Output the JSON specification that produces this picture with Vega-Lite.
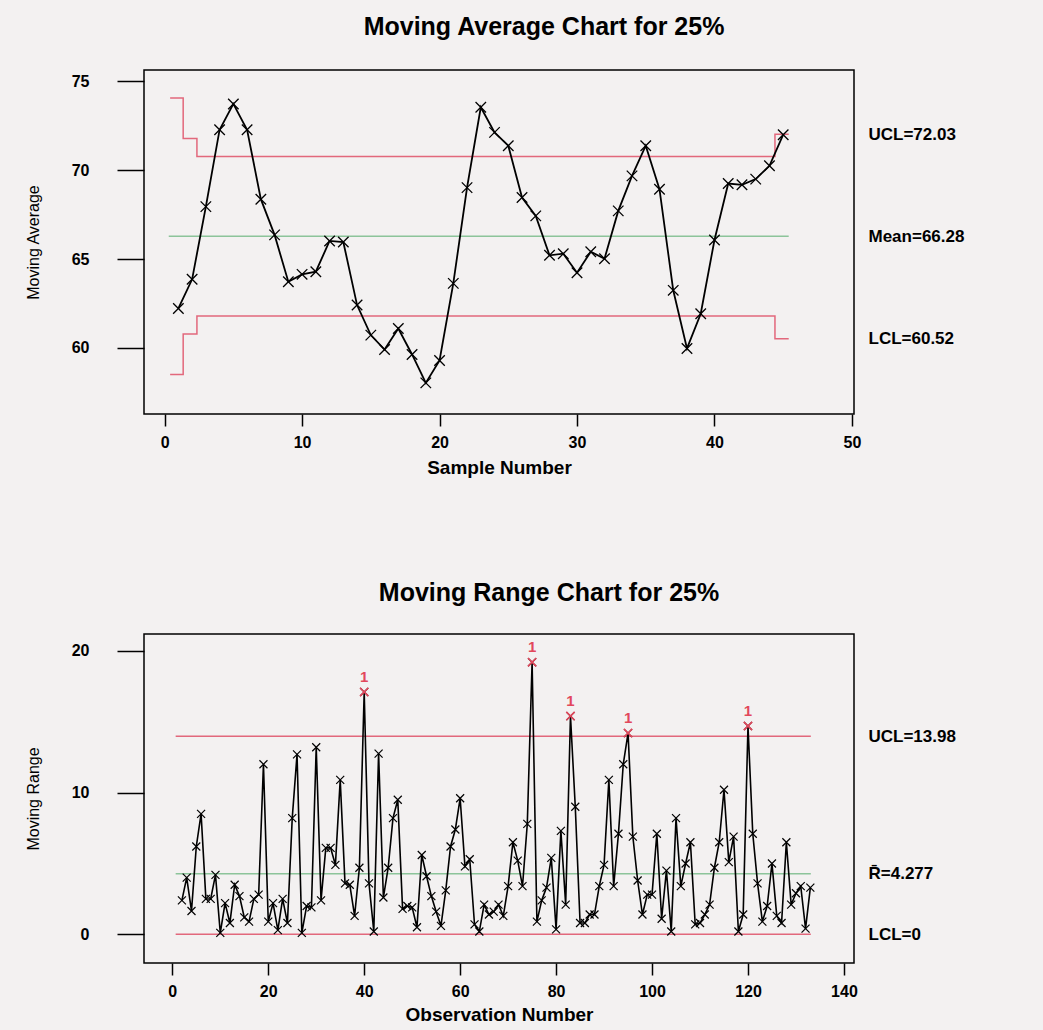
{
  "$schema": "https://vega.github.io/schema/vega-lite/v6.json",
  "background": "#f3f1f1",
  "padding": {"left": 24, "top": 14, "right": 81, "bottom": 5},
  "bounds": "flush",
  "spacing": 220,
  "config": {
    "view": {"stroke": "black", "strokeWidth": 1.5},
    "font": "Liberation Sans",
    "axis": {"grid": false, "domain": false, "tickColor": "black", "labelColor": "black", "titleColor": "black", "labelFont": "Liberation Sans", "titleFont": "Liberation Sans", "labelFontWeight": "bold", "labelFontSize": 16},
    "title": {"font": "Liberation Sans", "fontSize": 25, "fontWeight": "bold", "color": "black"}
  },
  "datasets": {
    "ma": [
      {"sample": 1, "avg": 62.22}, {"sample": 2, "avg": 63.86}, {"sample": 3, "avg": 67.95}, {"sample": 4, "avg": 72.28}, {"sample": 5, "avg": 73.73},
      {"sample": 6, "avg": 72.28}, {"sample": 7, "avg": 68.37}, {"sample": 8, "avg": 66.36}, {"sample": 9, "avg": 63.72}, {"sample": 10, "avg": 64.14},
      {"sample": 11, "avg": 64.29}, {"sample": 12, "avg": 66.02}, {"sample": 13, "avg": 65.96}, {"sample": 14, "avg": 62.41}, {"sample": 15, "avg": 60.72},
      {"sample": 16, "avg": 59.91}, {"sample": 17, "avg": 61.09}, {"sample": 18, "avg": 59.63}, {"sample": 19, "avg": 58.03}, {"sample": 20, "avg": 59.29},
      {"sample": 21, "avg": 63.63}, {"sample": 22, "avg": 69.02}, {"sample": 23, "avg": 73.54}, {"sample": 24, "avg": 72.13}, {"sample": 25, "avg": 71.38},
      {"sample": 26, "avg": 68.46}, {"sample": 27, "avg": 67.43}, {"sample": 28, "avg": 65.21}, {"sample": 29, "avg": 65.30}, {"sample": 30, "avg": 64.23},
      {"sample": 31, "avg": 65.41}, {"sample": 32, "avg": 65.02}, {"sample": 33, "avg": 67.71}, {"sample": 34, "avg": 69.68}, {"sample": 35, "avg": 71.38},
      {"sample": 36, "avg": 68.93}, {"sample": 37, "avg": 63.24}, {"sample": 38, "avg": 59.97}, {"sample": 39, "avg": 61.92}, {"sample": 40, "avg": 66.07},
      {"sample": 41, "avg": 69.25}, {"sample": 42, "avg": 69.18}, {"sample": 43, "avg": 69.50}, {"sample": 44, "avg": 70.25}, {"sample": 45, "avg": 72.0}
    ],
    "ma_limits": [
      {"x": 0.4, "y": 74.06, "limit": "UCL"}, {"x": 1.35, "y": 71.78, "limit": "UCL"}, {"x": 2.35, "y": 70.77, "limit": "UCL"}, {"x": 44.4, "y": 72.03, "limit": "UCL"}, {"x": 45.4, "y": 72.03, "limit": "UCL"},
      {"x": 0.4, "y": 58.50, "limit": "LCL"}, {"x": 1.35, "y": 60.78, "limit": "LCL"}, {"x": 2.35, "y": 61.79, "limit": "LCL"}, {"x": 44.4, "y": 60.52, "limit": "LCL"}, {"x": 45.4, "y": 60.52, "limit": "LCL"}
    ],
    "ma_center": [{"x": 0.3, "x2": 45.4, "y": 66.28}],
    "ma_labels": [{"v": 72.03}, {"v": 66.28}, {"v": 60.52}],
    "mr": [
      {"obs": 2, "mr": 2.4}, {"obs": 3, "mr": 4.0}, {"obs": 4, "mr": 1.65}, {"obs": 5, "mr": 6.2}, {"obs": 6, "mr": 8.5},
      {"obs": 7, "mr": 2.5}, {"obs": 8, "mr": 2.5}, {"obs": 9, "mr": 4.2}, {"obs": 10, "mr": 0.1}, {"obs": 11, "mr": 2.2},
      {"obs": 12, "mr": 0.8}, {"obs": 13, "mr": 3.5}, {"obs": 14, "mr": 2.7}, {"obs": 15, "mr": 1.2}, {"obs": 16, "mr": 0.9},
      {"obs": 17, "mr": 2.5}, {"obs": 18, "mr": 2.8}, {"obs": 19, "mr": 12.0}, {"obs": 20, "mr": 0.9}, {"obs": 21, "mr": 2.2},
      {"obs": 22, "mr": 0.3}, {"obs": 23, "mr": 2.5}, {"obs": 24, "mr": 0.8}, {"obs": 25, "mr": 8.2}, {"obs": 26, "mr": 12.7},
      {"obs": 27, "mr": 0.1}, {"obs": 28, "mr": 2.0}, {"obs": 29, "mr": 1.9}, {"obs": 30, "mr": 13.2}, {"obs": 31, "mr": 2.4},
      {"obs": 32, "mr": 6.1}, {"obs": 33, "mr": 6.1}, {"obs": 34, "mr": 4.9}, {"obs": 35, "mr": 10.9}, {"obs": 36, "mr": 3.6},
      {"obs": 37, "mr": 3.5}, {"obs": 38, "mr": 1.3}, {"obs": 39, "mr": 4.7}, {"obs": 40, "mr": 17.1}, {"obs": 41, "mr": 3.6},
      {"obs": 42, "mr": 0.2}, {"obs": 43, "mr": 12.75}, {"obs": 44, "mr": 2.6}, {"obs": 45, "mr": 4.7}, {"obs": 46, "mr": 8.2},
      {"obs": 47, "mr": 9.5}, {"obs": 48, "mr": 1.8}, {"obs": 49, "mr": 2.0}, {"obs": 50, "mr": 1.9}, {"obs": 51, "mr": 0.5},
      {"obs": 52, "mr": 5.6}, {"obs": 53, "mr": 4.1}, {"obs": 54, "mr": 2.7}, {"obs": 55, "mr": 1.6}, {"obs": 56, "mr": 0.6},
      {"obs": 57, "mr": 3.1}, {"obs": 58, "mr": 6.2}, {"obs": 59, "mr": 7.4}, {"obs": 60, "mr": 9.6}, {"obs": 61, "mr": 4.8},
      {"obs": 62, "mr": 5.3}, {"obs": 63, "mr": 0.7}, {"obs": 64, "mr": 0.2}, {"obs": 65, "mr": 2.1}, {"obs": 66, "mr": 1.4},
      {"obs": 67, "mr": 1.6}, {"obs": 68, "mr": 2.1}, {"obs": 69, "mr": 1.3}, {"obs": 70, "mr": 3.4}, {"obs": 71, "mr": 6.5},
      {"obs": 72, "mr": 5.2}, {"obs": 73, "mr": 3.4}, {"obs": 74, "mr": 7.8}, {"obs": 75, "mr": 19.2}, {"obs": 76, "mr": 0.9},
      {"obs": 77, "mr": 2.4}, {"obs": 78, "mr": 3.3}, {"obs": 79, "mr": 5.4}, {"obs": 80, "mr": 0.35}, {"obs": 81, "mr": 7.3},
      {"obs": 82, "mr": 2.1}, {"obs": 83, "mr": 15.4}, {"obs": 84, "mr": 9.0}, {"obs": 85, "mr": 0.8}, {"obs": 86, "mr": 0.8},
      {"obs": 87, "mr": 1.4}, {"obs": 88, "mr": 1.4}, {"obs": 89, "mr": 3.4}, {"obs": 90, "mr": 4.9}, {"obs": 91, "mr": 10.9},
      {"obs": 92, "mr": 3.4}, {"obs": 93, "mr": 7.1}, {"obs": 94, "mr": 12.0}, {"obs": 95, "mr": 14.2}, {"obs": 96, "mr": 6.9},
      {"obs": 97, "mr": 3.8}, {"obs": 98, "mr": 1.4}, {"obs": 99, "mr": 2.8}, {"obs": 100, "mr": 2.8}, {"obs": 101, "mr": 7.1},
      {"obs": 102, "mr": 1.1}, {"obs": 103, "mr": 4.5}, {"obs": 104, "mr": 0.2}, {"obs": 105, "mr": 8.2}, {"obs": 106, "mr": 3.4},
      {"obs": 107, "mr": 5.0}, {"obs": 108, "mr": 6.5}, {"obs": 109, "mr": 0.7}, {"obs": 110, "mr": 0.8}, {"obs": 111, "mr": 1.4},
      {"obs": 112, "mr": 2.1}, {"obs": 113, "mr": 4.7}, {"obs": 114, "mr": 6.5}, {"obs": 115, "mr": 10.2}, {"obs": 116, "mr": 5.1},
      {"obs": 117, "mr": 6.9}, {"obs": 118, "mr": 0.2}, {"obs": 119, "mr": 1.4}, {"obs": 120, "mr": 14.7}, {"obs": 121, "mr": 7.1},
      {"obs": 122, "mr": 3.6}, {"obs": 123, "mr": 0.9}, {"obs": 124, "mr": 2.0}, {"obs": 125, "mr": 5.0}, {"obs": 126, "mr": 1.3},
      {"obs": 127, "mr": 0.8}, {"obs": 128, "mr": 6.5}, {"obs": 129, "mr": 2.1}, {"obs": 130, "mr": 2.9}, {"obs": 131, "mr": 3.4},
      {"obs": 132, "mr": 0.4}, {"obs": 133, "mr": 3.3}
    ],
    "mr_limits": [{"x": 0.7, "x2": 133.1, "y": 13.98}, {"x": 0.7, "x2": 133.1, "y": 0}],
    "mr_center": [{"x": 0.7, "x2": 133.1, "y": 4.277}],
    "mr_labels": [{"v": 13.98}, {"v": 4.277}, {"v": 0}]
  },
  "vconcat": [
    {
      "width": 710,
      "height": 344,
      "title": {"text": "Moving Average Chart for 25%", "dx": 45, "offset": 30},
      "layer": [
        {
          "layer": [
            {
              "data": {"name": "ma_limits"},
              "mark": {"type": "line", "interpolate": "step-after", "color": "#e2687c", "strokeWidth": 1.5},
              "encoding": {
                "x": {"field": "x", "type": "quantitative", "scale": {"domain": [-1.5, 50.15], "nice": false, "zero": false},
                      "axis": {"title": "Sample Number", "values": [0, 10, 20, 30, 40, 50], "tickSize": 12, "tickWidth": 1.5, "labelPadding": 8, "titleFontSize": 19, "titleFontWeight": "bold", "titlePadding": 8}},
                "y": {"field": "y", "type": "quantitative", "scale": {"domain": [56.28, 75.64], "nice": false, "zero": false},
                      "axis": {"title": "Moving Average", "values": [60, 65, 70, 75], "tickSize": 27, "tickWidth": 1.5, "labelPadding": 28, "titleFontSize": 16, "titleFontWeight": "normal", "titlePadding": 30}},
                "detail": {"field": "limit"},
                "order": {"field": "x", "type": "quantitative"}
              }
            },
            {
              "data": {"name": "ma_center"},
              "mark": {"type": "rule", "color": "#8cc49a", "strokeWidth": 1.5},
              "encoding": {
                "x": {"field": "x", "type": "quantitative"},
                "x2": {"field": "x2"},
                "y": {"field": "y", "type": "quantitative"}
              }
            },
            {
              "data": {"name": "ma"},
              "mark": {"type": "line", "color": "black", "strokeWidth": 1.8},
              "encoding": {
                "x": {"field": "sample", "type": "quantitative"},
                "y": {"field": "avg", "type": "quantitative"}
              }
            },
            {
              "data": {"name": "ma"},
              "mark": {"type": "point", "shape": "M-1,-1L1,1M-1,1L1,-1", "filled": false, "stroke": "black", "strokeWidth": 1.3, "size": 110, "opacity": 1},
              "encoding": {
                "x": {"field": "sample", "type": "quantitative"},
                "y": {"field": "avg", "type": "quantitative"}
              }
            }
          ]
        },
        {
          "data": {"name": "ma_labels"},
          "mark": {"type": "point", "opacity": 0},
          "encoding": {
            "y": {"field": "v", "type": "quantitative", "scale": {"domain": [56.28, 75.64], "nice": false, "zero": false},
                  "axis": {"orient": "right", "title": null, "values": [72.03, 66.28, 60.52], "ticks": false, "labelPadding": 14, "labelFontSize": 17, "labelAlign": "left",
                           "labelExpr": "datum.value > 70 ? 'UCL=72.03' : datum.value > 63 ? 'Mean=66.28' : 'LCL=60.52'"}}
          }
        }
      ],
      "resolve": {"scale": {"y": "independent"}}
    },
    {
      "width": 710,
      "height": 329,
      "title": {"text": "Moving Range Chart for 25%", "dx": 50, "offset": 28},
      "layer": [
        {
          "layer": [
            {
              "data": {"name": "mr_limits"},
              "mark": {"type": "rule", "color": "#e2687c", "strokeWidth": 1.5},
              "encoding": {
                "x": {"field": "x", "type": "quantitative", "scale": {"domain": [-5.9, 142.1], "nice": false, "zero": false},
                      "axis": {"title": "Observation Number", "values": [0, 20, 40, 60, 80, 100, 120, 140], "tickSize": 12, "tickWidth": 1.5, "labelPadding": 8, "titleFontSize": 19, "titleFontWeight": "bold", "titlePadding": 6}},
                "x2": {"field": "x2"},
                "y": {"field": "y", "type": "quantitative", "scale": {"domain": [-2.02, 21.19], "nice": false, "zero": false},
                      "axis": {"title": "Moving Range", "values": [0, 10, 20], "tickSize": 27, "tickWidth": 1.5, "labelPadding": 28, "titleFontSize": 16, "titleFontWeight": "normal", "titlePadding": 30}}
              }
            },
            {
              "data": {"name": "mr_center"},
              "mark": {"type": "rule", "color": "#8cc49a", "strokeWidth": 1.5},
              "encoding": {
                "x": {"field": "x", "type": "quantitative"},
                "x2": {"field": "x2"},
                "y": {"field": "y", "type": "quantitative"}
              }
            },
            {
              "data": {"name": "mr"},
              "mark": {"type": "line", "color": "black", "strokeWidth": 1.6},
              "encoding": {
                "x": {"field": "obs", "type": "quantitative"},
                "y": {"field": "mr", "type": "quantitative"}
              }
            },
            {
              "data": {"name": "mr"},
              "mark": {"type": "point", "shape": "M-1,-1L1,1M-1,1L1,-1", "filled": false, "stroke": "black", "strokeWidth": 1.2, "size": 64, "opacity": 1},
              "encoding": {
                "x": {"field": "obs", "type": "quantitative"},
                "y": {"field": "mr", "type": "quantitative"}
              }
            },
            {
              "data": {"name": "mr"},
              "transform": [{"filter": "datum.mr > 13.98"}],
              "mark": {"type": "point", "shape": "M-1,-1L1,1M-1,1L1,-1", "filled": false, "stroke": "#e2485c", "strokeWidth": 1.6, "size": 70, "opacity": 1},
              "encoding": {
                "x": {"field": "obs", "type": "quantitative"},
                "y": {"field": "mr", "type": "quantitative"}
              }
            },
            {
              "data": {"name": "mr"},
              "transform": [{"filter": "datum.mr > 13.98"}],
              "mark": {"type": "text", "text": "1", "color": "#e2485c", "fontSize": 15, "fontWeight": "bold", "dy": -15},
              "encoding": {
                "x": {"field": "obs", "type": "quantitative"},
                "y": {"field": "mr", "type": "quantitative"}
              }
            }
          ]
        },
        {
          "data": {"name": "mr_labels"},
          "mark": {"type": "point", "opacity": 0},
          "encoding": {
            "y": {"field": "v", "type": "quantitative", "scale": {"domain": [-2.02, 21.19], "nice": false, "zero": false},
                  "axis": {"orient": "right", "title": null, "values": [13.98, 4.277, 0], "ticks": false, "labelPadding": 14, "labelFontSize": 17, "labelAlign": "left",
                           "labelExpr": "datum.value > 10 ? 'UCL=13.98' : datum.value > 2 ? 'R\u0304=4.277' : 'LCL=0'"}}
          }
        }
      ],
      "resolve": {"scale": {"y": "independent"}}
    }
  ]
}
